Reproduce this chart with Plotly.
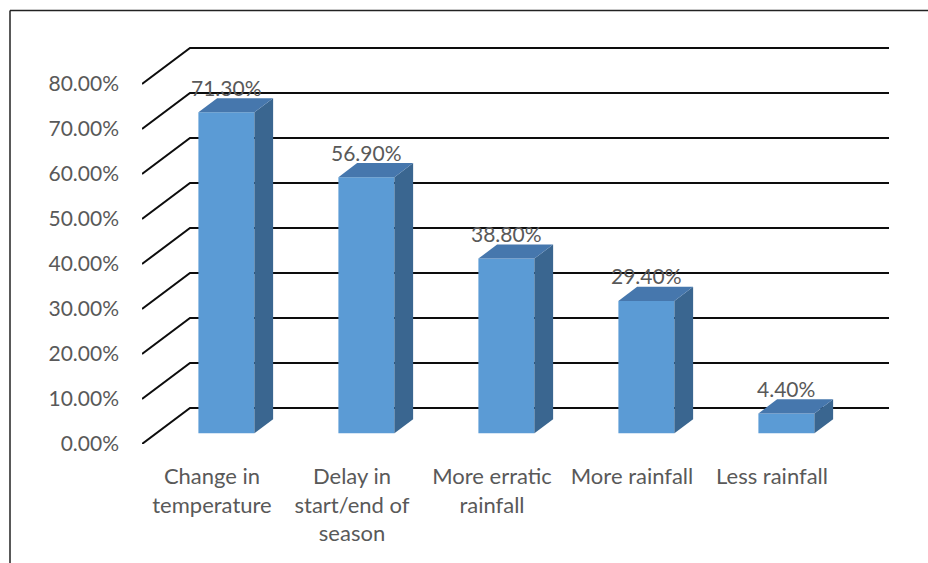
import plotly.graph_objects as go

# Survey responses: perceived climate changes
categories = [
    "Change in<br>temperature",
    "Delay in<br>start/end of<br>season",
    "More erratic<br>rainfall",
    "More rainfall",
    "Less rainfall",
]
shares = [71.3, 56.9, 38.8, 29.4, 4.4]          # percent
tick_values = [0, 10, 20, 30, 40, 50, 60, 70, 80]
tick_labels = [f"{v:.2f}%" for v in tick_values]

# ---- geometry of the pseudo-3D view (in axis units) ----
W, H = 928, 563
ML, MR, MT, MB = 142, 39, 40, 119
plot_w = W - ML - MR
plot_h = H - MT - MB
px_per_cat = 140.0
px_per_pct = 4.5
x_range = [-0.5, -0.5 + plot_w / px_per_cat]
y_range = [0, plot_h / px_per_pct]

DEPTH_DX = 48 / px_per_cat        # floor depth, x direction
DEPTH_DY = 36 / px_per_pct        # floor depth, y direction
Z_FRONT = 0.30                    # depth of bar front faces
Z_THICK = 0.39                    # bar depth
BAR_W = 0.40

FRONT = "#5B9BD5"
TOP = "#4677AD"
SIDE = "#3A6690"
TEXT = "#595959"
FONT = "Lato"
NUM_SIZE = 21
CAT_SIZE = 22

fig = go.Figure()

# Back wall gridlines: oblique segment on the left wall + horizontal line
shapes = []
for v in tick_values:
    shapes.append(dict(
        type="path", xref="x", yref="y", layer="below",
        path=(f"M {x_range[0]},{v} "
              f"L {x_range[0] + DEPTH_DX},{v + DEPTH_DY} "
              f"L {x_range[1]},{v + DEPTH_DY}"),
        line=dict(color="#0d0d0d", width=2),
    ))

# Chart frame (left and top edges)
fx = (10 - ML) / plot_w
fy = (H - MB - 10.5) / plot_h
shapes.append(dict(type="line", xref="paper", yref="paper",
                   x0=fx, x1=fx, y0=fy, y1=-1, line=dict(color="#222", width=1.5)))
shapes.append(dict(type="line", xref="paper", yref="paper",
                   x0=fx, x1=2, y0=fy, y1=fy, line=dict(color="#222", width=1.5)))

ox = Z_FRONT * DEPTH_DX
oy = Z_FRONT * DEPTH_DY
dx = Z_THICK * DEPTH_DX
dy = Z_THICK * DEPTH_DY
xs = [i + ox for i in range(len(shares))]

# Front faces
fig.add_trace(go.Bar(
    x=xs, y=shares, base=[oy] * len(shares), width=BAR_W,
    marker=dict(color=FRONT, line=dict(width=0)),
    hoverinfo="skip", showlegend=False,
))

# Side and top faces
for xc, v in zip(xs, shares):
    xl, xr = xc - BAR_W / 2, xc + BAR_W / 2
    b, t = oy, oy + v
    fig.add_trace(go.Scatter(
        x=[xr, xr + dx, xr + dx, xr, xr],
        y=[b, b + dy, t + dy, t, b],
        fill="toself", fillcolor=SIDE, mode="lines",
        line=dict(width=0, color=SIDE), hoverinfo="skip", showlegend=False,
    ))
    fig.add_trace(go.Scatter(
        x=[xl, xr, xr + dx, xl + dx, xl],
        y=[t, t, t + dy, t + dy, t],
        fill="toself", fillcolor=TOP, mode="lines",
        line=dict(width=0, color=TOP), hoverinfo="skip", showlegend=False,
    ))

# Value labels
annotations = []
for xc, v in zip(xs, shares):
    annotations.append(dict(
        x=xc, y=oy + v, xref="x", yref="y", text=f"{v:.2f}%",
        showarrow=False, yanchor="middle", yshift=25,
        font=dict(family=FONT, size=NUM_SIZE, color=TEXT),
    ))

fig.update_layout(
    width=W, height=H,
    margin=dict(l=ML, r=MR, t=MT, b=MB),
    paper_bgcolor="white", plot_bgcolor="rgba(0,0,0,0)",
    shapes=shapes, annotations=annotations,
    barmode="overlay", showlegend=False,
    font=dict(family=FONT, size=NUM_SIZE, color=TEXT),
)
fig.update_xaxes(
    range=x_range, showgrid=False, zeroline=False, showline=False,
    tickmode="array", tickvals=list(range(len(categories))), ticktext=categories,
    tickfont=dict(family=FONT, size=CAT_SIZE, color=TEXT),
    ticks="", ticklabelstandoff=17, fixedrange=True,
)
fig.update_yaxes(
    range=y_range, showgrid=False, zeroline=False, showline=False,
    tickmode="array", tickvals=tick_values, ticktext=tick_labels,
    tickfont=dict(family=FONT, size=NUM_SIZE, color=TEXT),
    ticks="", ticklabelstandoff=22, fixedrange=True,
)

fig.write_html("out.html")
